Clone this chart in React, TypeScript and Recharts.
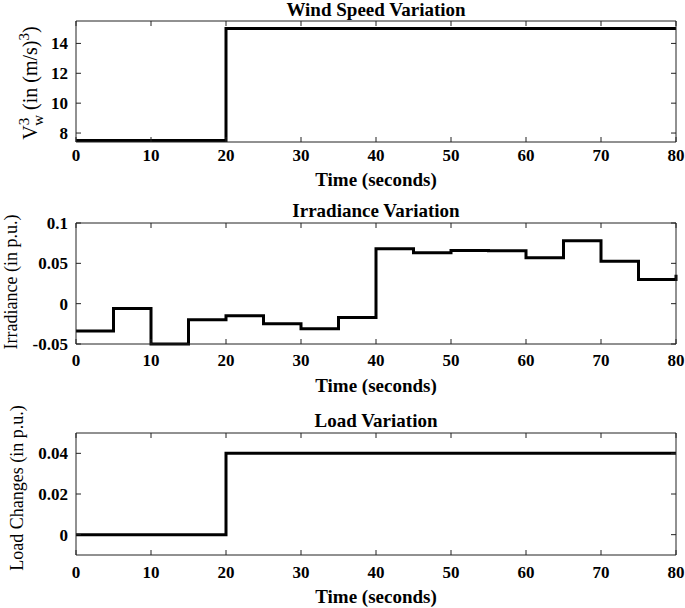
import { Label, Line, LineChart, XAxis, YAxis } from "recharts";

const FONT = '"Liberation Serif", "DejaVu Serif", serif';
const INK = "#000";
const FRAME = "#222";

const TIME_TICKS = [0, 10, 20, 30, 40, 50, 60, 70, 80];

const windTime = [0, 20, 80];
const windCube = [7.5, 15, 15];
const windTicks = [8, 10, 12, 14];

const irrTime = [0, 5, 10, 15, 20, 25, 30, 35, 40, 45, 50, 55, 60, 65, 70, 75, 80];
const irrValue = [
  -0.034, -0.006, -0.05, -0.02, -0.015, -0.025, -0.031, -0.017, 0.068, 0.063,
  0.066, 0.0655, 0.057, 0.078, 0.0525, 0.03, 0.036,
];
const irrTicks = [-0.05, 0, 0.05, 0.1];

const loadTime = [0, 20, 80];
const loadValue = [0, 0.04, 0.04];
const loadTicks = [0, 0.02, 0.04];

const zip = (t: number[], v: number[]) => t.map((time, i) => ({ time, v: v[i] }));

type PanelProps = {
  top: number;
  height: number;
  plotTop: number;
  plotBottom: number;
  data: { time: number; v: number }[];
  yDomain: [number, number];
  yTicks: number[];
  title: string;
  titleY: number;
  timeY: number;
  tickGap: number;
  yLabel: React.ReactNode;
  yLabelX: number;
  yLabelY: number;
  yLabelSize: number;
};

const W = 685;
const CX = 376;
const LABEL_SIZE = 19;

function Panel(p: PanelProps) {
  const tickStyle = { fill: INK, fontSize: 17, fontWeight: 700, fontFamily: FONT };
  const blank = () => "";
  return (
    <div
      style={{
        position: "absolute",
        left: 0,
        top: p.top,
        width: W,
        height: p.height,
        fontFamily: FONT,
        fontWeight: 700,
      }}
    >
      <LineChart
        width={W}
        height={p.height}
        data={p.data}
        margin={{ top: p.plotTop - 1, right: 0, bottom: 0, left: 0 }}
      >
        <XAxis
          xAxisId="b"
          dataKey="time"
          type="number"
          domain={[0, 80]}
          ticks={TIME_TICKS}
          height={p.height - p.plotBottom}
          tickSize={-5}
          tickMargin={p.tickGap}
          tick={tickStyle}
          stroke={FRAME}
        >
          <Label
            content={() => (
              <text x={CX} y={p.timeY} textAnchor="middle" fill={INK} fontSize={LABEL_SIZE} fontWeight={700} fontFamily={FONT}>
                Time (seconds)
              </text>
            )}
          />
        </XAxis>
        <XAxis
          xAxisId="t"
          orientation="top"
          dataKey="time"
          type="number"
          domain={[0, 80]}
          ticks={TIME_TICKS}
          height={1}
          tickSize={-5}
          tickFormatter={blank}
          stroke={FRAME}
        >
          <Label
            content={() => (
              <text x={CX} y={p.titleY} textAnchor="middle" fill={INK} fontSize={LABEL_SIZE} fontWeight={700} fontFamily={FONT}>
                {p.title}
              </text>
            )}
          />
        </XAxis>
        <YAxis
          yAxisId="l"
          type="number"
          domain={p.yDomain}
          ticks={p.yTicks}
          width={76}
          tickSize={-5}
          tickMargin={13}
          tick={tickStyle}
          stroke={FRAME}
        >
          <Label
            content={() => (
              <text
                x={p.yLabelX}
                y={p.yLabelY}
                transform={`rotate(-90, ${p.yLabelX}, ${p.yLabelY})`}
                textAnchor="middle"
                fill={INK}
                fontSize={p.yLabelSize}
                fontWeight={400}
                fontFamily={FONT}
              >
                {p.yLabel}
              </text>
            )}
          />
        </YAxis>
        <YAxis
          yAxisId="r"
          orientation="right"
          type="number"
          domain={p.yDomain}
          ticks={p.yTicks}
          width={W - 676}
          tickSize={-5}
          tickFormatter={blank}
          stroke={FRAME}
        />
        <Line
          xAxisId="t"
          yAxisId="r"
          dataKey="v"
          type="stepAfter"
          stroke="none"
          dot={false}
          isAnimationActive={false}
        />
        <Line
          xAxisId="b"
          yAxisId="l"
          dataKey="v"
          type="stepAfter"
          stroke={INK}
          strokeWidth={3}
          dot={false}
          isAnimationActive={false}
        />
      </LineChart>
    </div>
  );
}

export default function App() {
  return (
    <div style={{ position: "absolute", left: 0, top: 0, width: W, height: 608, background: "#fff" }}>
      <Panel
        top={0}
        height={198}
        plotTop={21}
        plotBottom={142}
        data={zip(windTime, windCube)}
        yDomain={[7.4, 15.5]}
        yTicks={windTicks}
        title="Wind Speed Variation"
        titleY={16}
        timeY={186}
        tickGap={12}
        yLabelX={37}
        yLabelY={83}
        yLabelSize={20}
        yLabel={
          <>
            <tspan>V</tspan>
            <tspan dy={-8} fontSize={15}>3</tspan>
            <tspan dx={-8} dy={14} fontSize={15}>w</tspan>
            <tspan dy={-6}> (in (m/s)</tspan>
            <tspan dy={-8} fontSize={15}>3</tspan>
            <tspan dy={8}>)</tspan>
          </>
        }
      />
      <Panel
        top={198}
        height={197}
        plotTop={25}
        plotBottom={146}
        data={zip(irrTime, irrValue)}
        yDomain={[-0.05, 0.1]}
        yTicks={irrTicks}
        title="Irradiance Variation"
        titleY={19}
        timeY={194}
        tickGap={15}
        yLabelX={17}
        yLabelY={84}
        yLabelSize={18}
        yLabel="Irradiance (in p.u.)"
      />
      <Panel
        top={395}
        height={213}
        plotTop={38}
        plotBottom={160}
        data={zip(loadTime, loadValue)}
        yDomain={[-0.01, 0.05]}
        yTicks={loadTicks}
        title="Load Variation"
        titleY={32}
        timeY={208}
        tickGap={16}
        yLabelX={23}
        yLabelY={93}
        yLabelSize={18}
        yLabel="Load Changes (in p.u.)"
      />
    </div>
  );
}
